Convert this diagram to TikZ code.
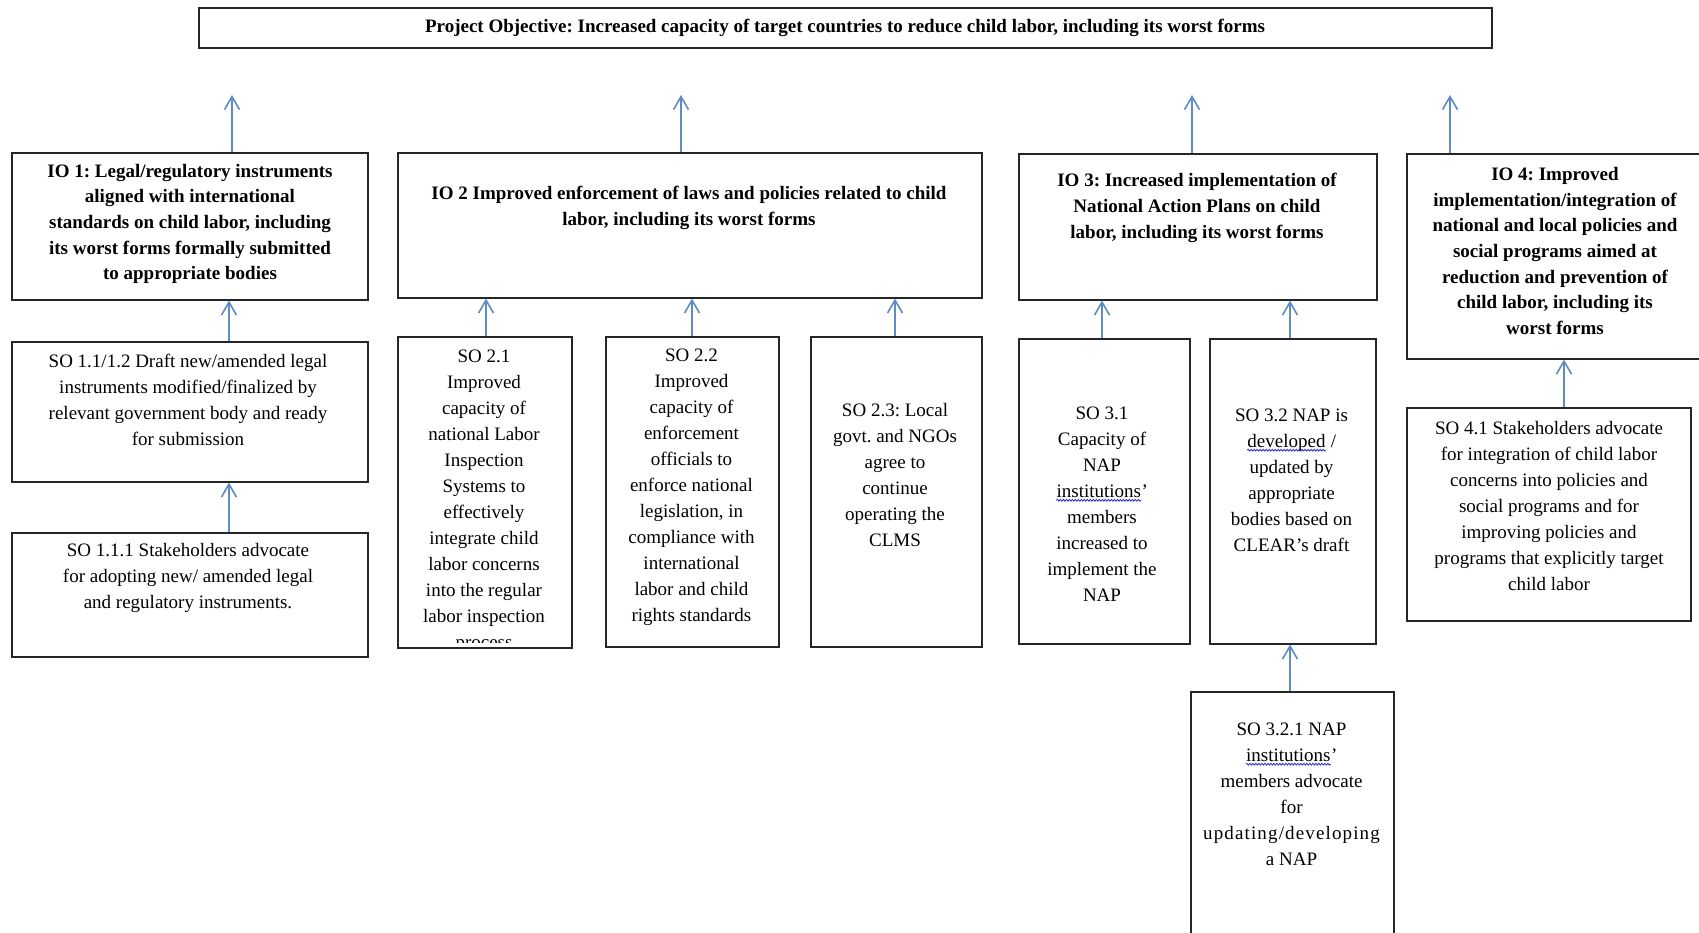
\documentclass[tikz,border=0pt]{standalone}
\usepackage{fontspec}
\setmainfont{Liberation Serif}
\usetikzlibrary{arrows.meta,decorations.pathmorphing}
\definecolor{arrowblue}{RGB}{96,140,196}
\definecolor{squigblue}{RGB}{40,40,210}
\frenchspacing
\newcommand\squig[1]{\tikz[baseline=(sq.base)]{\node[inner sep=0pt] (sq) {#1};\draw[squigblue, line width=0.8pt, decorate, decoration={snake, amplitude=0.9pt, segment length=3pt}] ([yshift=-3pt]sq.base west) -- ([yshift=-3pt]sq.base east);}}
\tikzset{
  box/.style={draw=black!85, line width=1.5pt, anchor=north west, inner sep=0pt},
  btxt/.style={font=\fontsize{19}{25.7}\selectfont\bfseries, align=center, inner sep=0pt},
  rtxt/.style={font=\fontsize{19}{26}\selectfont, align=center, inner sep=0pt},
  arr/.style={draw=arrowblue, line width=2pt, -{Straight Barb[length=13pt,width=15pt,line width=1.6pt]}}
}
\begin{document}
\begin{tikzpicture}[x=1pt,y=-1pt]
\useasboundingbox (0,0) rectangle (1699,932);
\fill[white] (0,0) rectangle (1699,932);
% boxes
\node[box, minimum width=1293pt, minimum height=40pt] (po) at (198,7) {};
\node[box, minimum width=356pt, minimum height=147pt] (io1) at (11,152) {};
\node[box, minimum width=584pt, minimum height=145pt] (io2) at (397,152) {};
\node[box, minimum width=358pt, minimum height=146pt] (io3) at (1018,153) {};
\node[box, minimum width=300pt, minimum height=205pt] (io4) at (1406,153) {};
\node[box, minimum width=356pt, minimum height=140pt] (so112) at (11,341) {};
\node[box, minimum width=356pt, minimum height=124pt] (so111) at (11,532) {};
\node[box, minimum width=174pt, minimum height=311pt] (so21) at (397,336) {};
\node[box, minimum width=173pt, minimum height=310pt] (so22) at (605,336) {};
\node[box, minimum width=171pt, minimum height=310pt] (so23) at (810,336) {};
\node[box, minimum width=171pt, minimum height=305pt] (so31) at (1018,338) {};
\node[box, minimum width=166pt, minimum height=305pt] (so32) at (1209,338) {};
\node[box, minimum width=203pt, minimum height=260pt] (so321) at (1190,691) {};
\node[box, minimum width=284pt, minimum height=213pt] (so41) at (1406,407) {};
% texts
\node[btxt, font=\fontsize{19}{22}\selectfont\bfseries] (pot) at (845,28) {Project Objective: Increased capacity of target countries to reduce child labor, including its worst forms};
\node[btxt] (io1t) at (190,224) {IO 1: Legal/regulatory instruments\\aligned with international\\standards on child labor, including\\its worst forms formally submitted\\to appropriate bodies};
\node[btxt] (io2t) at (689,208) {IO 2 Improved enforcement of laws and policies related to child\\labor, including its worst forms};
\node[btxt] (io3t) at (1197,208) {IO 3: Increased implementation of\\National Action Plans on child\\labor, including its worst forms};
\node[btxt] (io4t) at (1555,251) {IO 4: Improved\\implementation/integration of\\national and local policies and\\social programs aimed at\\reduction and prevention of\\child labor, including its\\worst forms};
\node[rtxt] (so112t) at (188,400) {SO 1.1/1.2 Draft new/amended legal\\instruments modified/finalized by\\relevant government body and ready\\for submission};
\node[rtxt] (so111t) at (188,578) {SO 1.1.1 Stakeholders advocate\\for adopting new/ amended legal\\and regulatory instruments.};
\begin{scope}
\clip (so21.north west) rectangle ([yshift=6pt]so21.south east);
\node[rtxt] (so21t) at (484,501) {SO 2.1\\Improved\\capacity of\\national Labor\\Inspection\\Systems to\\effectively\\integrate child\\labor concerns\\into the regular\\labor inspection\\process};
\end{scope}
\node[rtxt] (so22t) at (691.5,487) {SO 2.2\\Improved\\capacity of\\enforcement\\officials to\\enforce national\\legislation, in\\compliance with\\international\\labor and child\\rights standards};
\node[rtxt] (so23t) at (895,475) {SO 2.3: Local\\govt. and NGOs\\agree to\\continue\\operating the\\CLMS};
\node[rtxt] (so31t) at (1102,504) {SO 3.1\\Capacity of\\NAP\\\squig{institutions}’\\members\\increased to\\implement the\\NAP};
\node[rtxt] (so32t) at (1291.5,480) {SO 3.2 NAP is\\\squig{developed} /\\updated by\\appropriate\\bodies based on\\CLEAR’s draft};
\node[rtxt] (so321t) at (1291.5,794) {SO 3.2.1 NAP\\\squig{institutions}’\\members advocate\\for\\{\addfontfeature{LetterSpace=6}updating/developing}\\a NAP};
\node[rtxt] (so41t) at (1549,506) {SO 4.1 Stakeholders advocate\\for integration of child labor\\concerns into policies and\\social programs and for\\improving policies and\\programs that explicitly target\\child labor};
% free ends and arrow columns
\coordinate (e1) at (232,95);
\coordinate (e2) at (681,95);
\coordinate (e3) at (1192,95);
\coordinate (e4) at (1450,95);
\coordinate (c1) at (229,0);
\coordinate (c21) at (486,0);
\coordinate (c22) at (692,0);
\coordinate (c23) at (895,0);
\coordinate (c31) at (1102,0);
\coordinate (c32) at (1290,0);
\coordinate (c41) at (1564,0);
% arrows
\draw[arr] (io1.north -| e1) -- (e1);
\draw[arr] (io2.north -| e2) -- (e2);
\draw[arr] (io3.north -| e3) -- (e3);
\draw[arr] (io4.north -| e4) -- (e4);
\draw[arr] (so112.north -| c1) -- (io1.south -| c1);
\draw[arr] (so111.north -| c1) -- (so112.south -| c1);
\draw[arr] (so21.north -| c21) -- (io2.south -| c21);
\draw[arr] (so22.north -| c22) -- (io2.south -| c22);
\draw[arr] (so23.north -| c23) -- (io2.south -| c23);
\draw[arr] (so31.north -| c31) -- (io3.south -| c31);
\draw[arr] (so32.north -| c32) -- (io3.south -| c32);
\draw[arr] (so321.north -| c32) -- (so32.south -| c32);
\draw[arr] (so41.north -| c41) -- (io4.south -| c41);
\end{tikzpicture}
\end{document}
